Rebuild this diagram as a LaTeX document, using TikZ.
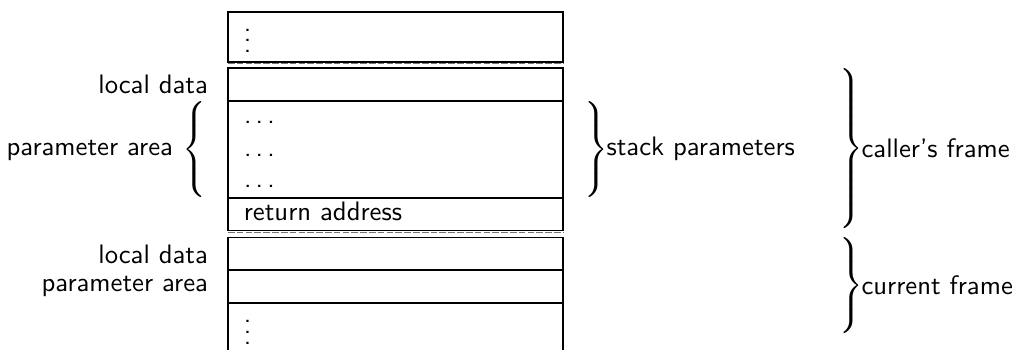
\documentclass[tikz,border=0pt]{standalone}
\delimiterfactor=1001
\delimitershortfall=0pt
\newcommand\bracerightof[1]{$\left.\vcenter{\hbox{\rule{0pt}{#1}}}\right\}$}
\newcommand\braceleftof[1]{$\left\{\vcenter{\hbox{\rule{0pt}{#1}}}\right.$}
\newcommand\spdots{.\kern1.55pt.\kern1.55pt.}
\begin{document}
\begin{tikzpicture}[x=0.3745pt,y=-0.3745pt,font=\sffamily,
  cell/.style={draw,line width=0.5pt},
  gapline/.style={draw=black!55,line width=0.35pt,dash pattern=on 2.5pt off 0.8pt},
  lbl/.style={inner sep=0pt,anchor=east},
  intext/.style={inner sep=0pt,anchor=base west},
  dotsv/.style={inner sep=0pt,anchor=base},
  brace/.style={inner sep=0pt}]
\useasboundingbox (0,0) rectangle (1015,349);
% boxes
\draw[cell] (228,12) rectangle (563,62);
\draw[gapline] (228,63.8) -- (563,63.8);
\draw[cell] (228,68) rectangle (563,101);
\draw[cell] (228,101) rectangle (563,198);
\draw[cell] (228,198) rectangle (563,230.5);
\draw[gapline] (228,232.3) -- (563,232.3);
\draw[cell] (228,237.5) rectangle (563,270);
\draw[cell] (228,270) rectangle (563,303);
\draw[cell] (228,365) -- (228,303) -- (563,303) -- (563,365);
% box contents
\node[dotsv] (vtop) at (247.7,52.4) {$\vdots$};
\node[intext] (d1) at (243.6,123.4) {\spdots};
\node[intext] (d2) at (243.6,156) {\spdots};
\node[intext] (d3) at (243.6,187.6) {\spdots};
\node[intext] (ret) at (243.3,220) {return address};
\node[dotsv] (vbot) at (247.7,344.1) {$\vdots$};
% left labels
\node[lbl] (ld1) at (208.5,84.5) {local data};
\node[lbl] (pa1) at (173.5,150) {parameter area};
\node[brace,anchor=east] (bl) at (209.5,149.5) {\braceleftof{35.4pt}};
\node[lbl] (ld2) at (208.5,254) {local data};
\node[lbl] (pa2) at (208.5,286.5) {parameter area};
% right braces and labels
\node[brace,anchor=west] (bsp) at (581,149.5) {\bracerightof{35.4pt}};
\node[anchor=west,inner sep=0pt] (tsp) at (606,148.5) {stack parameters};
\node[brace,anchor=west] (bcf) at (836,148.5) {\bracerightof{59.4pt}};
\node[anchor=west,inner sep=0pt] (tcf) at (861,148.5) {caller’s frame};
\node[brace,anchor=west] (bcu) at (836,285.5) {\bracerightof{35.4pt}};
\node[anchor=west,inner sep=0pt] (tcu) at (861,285.5) {current frame};
\end{tikzpicture}
\end{document}
